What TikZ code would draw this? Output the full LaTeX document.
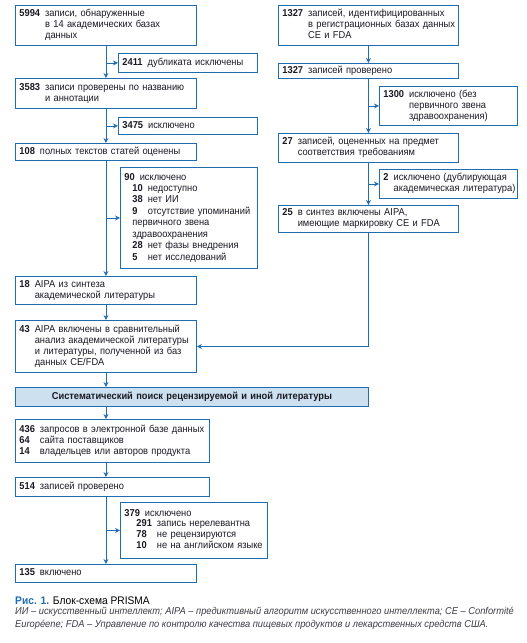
\documentclass[tikz,border=0pt]{standalone}
\usepackage{fontspec}
\setmainfont{Liberation Sans}[FakeStretch=0.93]
\usetikzlibrary{arrows.meta}
\definecolor{pblue}{RGB}{31,109,176}
\definecolor{pfill}{RGB}{204,224,240}
\definecolor{ptext}{RGB}{25,25,35}
\newcommand{\rec}[2]{\begin{tabular}[t]{@{}l@{\hspace{5pt}}l@{}}\textbf{#1}&\begin{tabular}[t]{@{}l@{}}#2\end{tabular}\end{tabular}}
\tikzset{
  box/.style={draw=pblue, line width=0.9pt, anchor=north west, align=left,
    inner xsep=4pt, inner ysep=1pt, text=ptext,
    font=\fontsize{10}{11}\selectfont},
  arr/.style={draw=pblue, line width=0.9pt, -{Stealth[length=5pt,width=5pt]}}
}
\begin{document}
\begin{tikzpicture}[x=1pt,y=-1pt]
  \useasboundingbox (0,0) rectangle (527,643);
  % academic literature
  \node[box, text width=173pt, minimum height=40pt] (r5994) at (15,5)
    {\rec{5994}{записи, обнаруженные\\в 14 академических базах\\данных}};
  \node[box, text width=131pt, minimum height=19pt] (d2411) at (118,53)
    {\rec{2411}{дубликата исключены}};
  \node[box, text width=173pt, minimum height=30pt] (r3583) at (15,78)
    {\rec{3583}{записи проверены по названию\\и аннотации}};
  \node[box, text width=131pt, minimum height=17pt] (d3475) at (118,117)
    {\rec{3475}{исключено}};
  \node[box, text width=173pt, minimum height=17pt] (r108) at (15,143)
    {\rec{108}{полных текстов статей оценены}};
  \node[box, text width=129pt, minimum height=101pt,
    font=\fontsize{10}{11.5}\selectfont] (d90) at (120,167)
    {\rec{90}{исключено}\\[-1pt]
     \hspace*{8pt}\begin{tabular}[t]{@{}l@{\hspace{5pt}}l@{}}
       \textbf{10}&недоступно\\
       \textbf{38}&нет ИИ\\
       \textbf{9}&отсутствие упоминаний\\
       \multicolumn{2}{@{}l@{}}{первичного звена}\\
       \multicolumn{2}{@{}l@{}}{здравоохранения}\\
       \textbf{28}&нет фазы внедрения\\
       \textbf{5}&нет исследований
     \end{tabular}};
  \node[box, text width=173pt, minimum height=28pt] (r18) at (15,276)
    {\rec{18}{AIPA из синтеза\\академической литературы}};
  \node[box, text width=173pt, minimum height=52pt] (r43) at (15,320)
    {\rec{43}{AIPA включены в сравнительный\\анализ академической литературы\\и литературы, полученной из баз\\данных CE/FDA}};
  % CE and FDA databases
  \node[box, text width=172pt, minimum height=40pt] (c1327) at (278,5)
    {\rec{1327}{записей, идентифицированных\\в регистрационных базах данных\\CE и FDA}};
  \node[box, text width=172pt, minimum height=15pt] (c1327b) at (278,63)
    {\rec{1327}{записей проверено}};
  \node[box, text width=130pt, minimum height=39pt] (d1300) at (379,86)
    {\rec{1300}{исключено (без\\первичного звена\\здравоохранения)}};
  \node[box, text width=172pt, minimum height=29pt] (c27) at (278,133)
    {\rec{27}{записей, оцененных на предмет\\соответствия требованиям}};
  \node[box, text width=130pt, minimum height=29pt] (d2) at (379,169)
    {\rec{2}{исключено (дублирующая\\академическая литература)}};
  \node[box, text width=172pt, minimum height=27pt] (c25) at (278,205)
    {\rec{25}{в синтез включены AIPA,\\имеющие маркировку CE и FDA}};
  % other literature
  \node[box, fill=pfill, align=center, text width=345pt, minimum height=19pt,
    font=\fontsize{10}{11}\selectfont\bfseries] (banner) at (15,387)
    {Систематический поиск рецензируемой и иной литературы};
  \node[box, text width=186pt, minimum height=43pt] (r436) at (15,419)
    {\begin{tabular}[t]{@{}l@{\hspace{5pt}}l@{}}
       \textbf{436}&запросов в электронной базе данных\\
       \textbf{64}&сайта поставщиков\\
       \textbf{14}&владельцев или авторов продукта
     \end{tabular}};
  \node[box, text width=186pt, minimum height=19pt] (r514) at (15,477)
    {\rec{514}{записей проверено}};
  \node[box, text width=139pt, minimum height=56pt] (d379) at (120,502)
    {\rec{379}{исключено}\\[-1pt]
     \hspace*{12pt}\begin{tabular}[t]{@{}l@{\hspace{5pt}}l@{}}
       \textbf{291}&запись нерелевантна\\
       \textbf{78}&не рецензируются\\
       \textbf{10}&не на английском языке
     \end{tabular}};
  \node[box, text width=173pt, minimum height=18pt] (r135) at (15,564)
    {\rec{135}{включено}};
  % connectors
  \draw[arr] (r5994) -- (r3583);
  \draw[arr] (r5994.south |- d2411.west) -- (d2411.west);
  \draw[arr] (r3583) -- (r108);
  \draw[arr] (r3583.south |- d3475.west) -- (d3475.west);
  \draw[arr] (r108) -- (r18);
  \draw[arr] (r108.south |- d90.west) -- (d90.west);
  \draw[arr] (r18) -- (r43);
  \draw[arr] (r43.south) -- (r43.south |- banner.north);
  \draw[arr] (r43.south |- banner.south) -- (r43.south |- r436.north);
  \draw[arr] (r43.south |- r436.south) -- (r43.south |- r514.north);
  \draw[arr] (r43.south |- r514.south) -- (r135.north);
  \draw[arr] (r135.north |- d379.west) -- (d379.west);
  \draw[arr] (c1327) -- (c1327b);
  \draw[arr] (c1327b) -- (c27);
  \draw[arr] (c1327b.south |- d1300.west) -- (d1300.west);
  \draw[arr] (c27) -- (c25);
  \draw[arr] (c27.south |- d2.west) -- (d2.west);
  \draw[arr] (c25.south) |- (r43.east);
  % caption
  \node[anchor=base west, inner sep=0pt, font=\fontsize{11}{12}\selectfont] (cap) at (15,604)
    {\textcolor{pblue}{\textbf{Рис. 1.}} Блок-схема PRISMA};
  \node[anchor=base west, inner sep=0pt, align=left, text=ptext!85,
    font=\fontsize{10}{13}\selectfont\itshape] (note) at (15,627)
    {ИИ – искусственный интеллект; AIPA – предиктивный алгоритм искусственного интеллекта; CE – Conformité\\
     Européene; FDA – Управление по контролю качества пищевых продуктов и лекарственных средств США.};
\end{tikzpicture}
\end{document}
